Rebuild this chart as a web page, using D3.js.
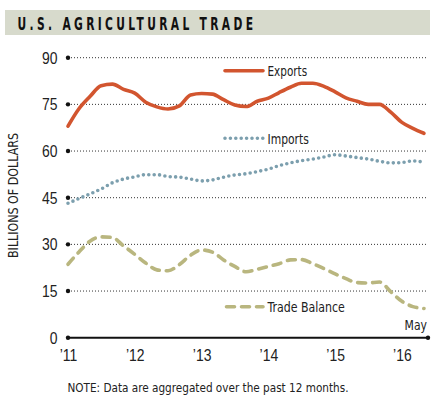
<!DOCTYPE html>
<html>
<head>
<meta charset="utf-8">
<script src="https://cdn.jsdelivr.net/npm/d3@7"></script>
<style>
  body { margin: 0; background: #fff; }
  svg { display: block; font-family: "Liberation Sans Narrow", "DejaVu Sans Condensed", "Arial Narrow", sans-serif; }
</style>
</head>
<body>
<div id="chart"></div>
<script>
// months sampled every second month, Jan 2011 .. May 2016
var months = ["2011-01","2011-03","2011-05","2011-07","2011-09","2011-11",
              "2012-01","2012-03","2012-05","2012-07","2012-09","2012-11",
              "2013-01","2013-03","2013-05","2013-07","2013-09","2013-11",
              "2014-01","2014-03","2014-05","2014-07","2014-09","2014-11",
              "2015-01","2015-03","2015-05","2015-07","2015-09","2015-11",
              "2016-01","2016-03","2016-05"];
var exportsVals = [68, 73.5, 77.5, 81, 81.5, 79.8,
                   78.6, 75.7, 74.2, 73.5, 74.5, 78,
                   78.5, 78.3, 76.5, 74.8, 74.3, 76,
                   77, 78.8, 80.5, 81.8, 81.8, 80.8,
                   79, 77.1, 76, 75, 75, 72.5,
                   69.2, 67.3, 65.7];
var importsVals = [43.2, 44.7, 46.2, 47.8, 49.8, 51,
                   51.7, 52.4, 52.4, 51.8, 51.6, 51,
                   50.4, 50.7, 51.6, 52.3, 52.7, 53.4,
                   54.2, 55.3, 56.2, 56.9, 57.4, 58.1,
                   58.8, 58.4, 57.9, 57.4, 56.7, 56.2,
                   56.3, 56.8, 56.4];
var balanceVals = [23.6, 27.5, 31, 32.4, 32.2, 29.5,
                   26.8, 24, 21.8, 21.5, 23.5, 26.5,
                   28.2, 27.5, 25, 22.9, 21.2, 22,
                   22.9, 23.8, 25, 25.1, 23.8, 22.2,
                   20.5, 19, 17.7, 17.6, 17.9, 14.8,
                   11.7, 10, 9.4];
var yTicks = [0, 15, 30, 45, 60, 75, 90];
var xTickYears = [2011, 2012, 2013, 2014, 2015, 2016];
var seriesNames = ["Exports", "Imports", "Trade Balance"];

var W = 433, H = 402;
var squeeze = 0.83; // fake a condensed face
var parse = d3.timeParse("%Y-%m");
var dates = months.map(parse);

var svg = d3.select("#chart").append("svg")
    .attr("width", W)
    .attr("height", H);

// title bar
svg.append("rect")
    .attr("x", 5).attr("y", 10)
    .attr("width", 425).attr("height", 25)
    .attr("fill", "#d7dacc");
// narrow glyphs, wide tracking
var titleSq = 0.68;
svg.append("text")
    .attr("transform", "translate(17.5,29.5) scale(" + titleSq + ",1)")
    .attr("font-size", 17.5)
    .attr("font-weight", "bold")
    .attr("textLength", 235.5 / titleSq)
    .attr("lengthAdjust", "spacing")
    .attr("fill", "#111")
    .text("U.S. AGRICULTURAL TRADE");

var x = d3.scaleTime()
    .domain([parse("2011-01"), parse("2016-05")])
    .range([68, 424]);
var y = d3.scaleLinear()
    .domain([0, 90])
    .range([337.7, 57.7]);
var xEnd = 428;

// gridlines
svg.append("g").selectAll("line")
    .data(yTicks.filter(function(d){ return d > 0; }))
    .join("line")
    .attr("x1", x.range()[0]).attr("x2", xEnd)
    .attr("y1", function(d){ return y(d); })
    .attr("y2", function(d){ return y(d); })
    .attr("stroke", "#333")
    .attr("stroke-width", 1)
    .attr("stroke-dasharray", "1,2");

// zero baseline
svg.append("line")
    .attr("x1", x.range()[0]).attr("x2", xEnd)
    .attr("y1", y(0)).attr("y2", y(0))
    .attr("stroke", "#111")
    .attr("stroke-width", 2);
svg.append("circle")
    .attr("cx", xEnd).attr("cy", y(0)).attr("r", 2.2)
    .attr("fill", "#111");

// tick dots
svg.append("g").selectAll("circle")
    .data(yTicks)
    .join("circle")
    .attr("cx", x.range()[0])
    .attr("cy", function(d){ return y(d); })
    .attr("r", 2.2)
    .attr("fill", "#111");

// y axis labels
var yAxis = svg.append("g")
    .attr("transform", "translate(" + x.range()[0] + ",0)")
    .call(d3.axisLeft(y).tickValues(yTicks).tickSize(0).tickPadding(10));
yAxis.select(".domain").remove();
yAxis.selectAll("text")
    .attr("font-size", 16.8)
    .attr("font-family", null)
    .attr("fill", "#222")
    .attr("x", -10.5 / squeeze)
    .attr("transform", "scale(" + squeeze + ",1)");

// x axis labels
var xAxis = svg.append("g")
    .attr("transform", "translate(0," + y(0) + ")")
    .call(d3.axisBottom(x)
        .tickValues(xTickYears.map(function(yr){ return new Date(yr, 0, 1); }))
        .tickFormat(d3.timeFormat("\u2019%y"))
        .tickSize(0).tickPadding(11));
xAxis.select(".domain").remove();
xAxis.selectAll("text")
    .attr("font-size", 16.8)
    .attr("font-family", null)
    .attr("fill", "#222")
    .attr("transform", "scale(" + squeeze + ",1)");

svg.append("text")
    .attr("x", 427).attr("y", 330)
    .attr("text-anchor", "end")
    .attr("font-size", 14)
    .attr("textLength", 22.4)
    .attr("lengthAdjust", "spacingAndGlyphs")
    .attr("fill", "#222")
    .text("May");

// y axis title
svg.append("text")
    .attr("transform", "translate(18,195.5) rotate(-90)")
    .attr("text-anchor", "middle")
    .attr("font-size", 14.5)
    .attr("textLength", 125)
    .attr("lengthAdjust", "spacingAndGlyphs")
    .attr("fill", "#222")
    .text("BILLIONS OF DOLLARS");

function lineFor(vals){
    return d3.line()
        .x(function(d, i){ return x(dates[i]); })
        .y(function(d){ return y(d); })
        .curve(d3.curveMonotoneX)(vals);
}

var styles = [
    { color: "#d2552f", dash: null, cap: "round" },
    { color: "#7c9fae", dash: "0,5.4", cap: "round" },
    { color: "#b9b67f", dash: "8,7", cap: "round" }
];
var allVals = [exportsVals, importsVals, balanceVals];

svg.append("g").selectAll("path")
    .data(allVals)
    .join("path")
    .attr("d", lineFor)
    .attr("fill", "none")
    .attr("stroke", function(d, i){ return styles[i].color; })
    .attr("stroke-width", 3.6)
    .attr("stroke-linecap", function(d, i){ return styles[i].cap; })
    .attr("stroke-linejoin", "round")
    .attr("stroke-dasharray", function(d, i){ return styles[i].dash; });

// legend, placed beside its line
var legendY = [70.7, 138.3, 306.7];
var legendW = [39.6, 41.3, 77.3];
var legend = svg.append("g").selectAll("g")
    .data(seriesNames)
    .join("g")
    .attr("transform", function(d, i){ return "translate(224," + legendY[i] + ")"; });
legend.append("line")
    .attr("x1", function(d, i){ return i == 2 ? 2.5 : 1; })
    .attr("x2", 39)
    .attr("stroke", function(d, i){ return styles[i].color; })
    .attr("stroke-width", 3.6)
    .attr("stroke-linecap", function(d, i){ return styles[i].cap; })
    .attr("stroke-dasharray", function(d, i){ return styles[i].dash; });
legend.append("text")
    .attr("x", 43.5)
    .attr("y", 5.5)
    .attr("font-size", 14)
    .attr("textLength", function(d, i){ return legendW[i]; })
    .attr("lengthAdjust", "spacingAndGlyphs")
    .attr("fill", "#222")
    .text(function(d){ return d; });

// note
svg.append("text")
    .attr("x", 67.5)
    .attr("y", 391.5)
    .attr("font-size", 12.5)
    .attr("textLength", 281)
    .attr("lengthAdjust", "spacingAndGlyphs")
    .attr("fill", "#222")
    .text("NOTE: Data are aggregated over the past 12 months.");
</script>
</body>
</html>
